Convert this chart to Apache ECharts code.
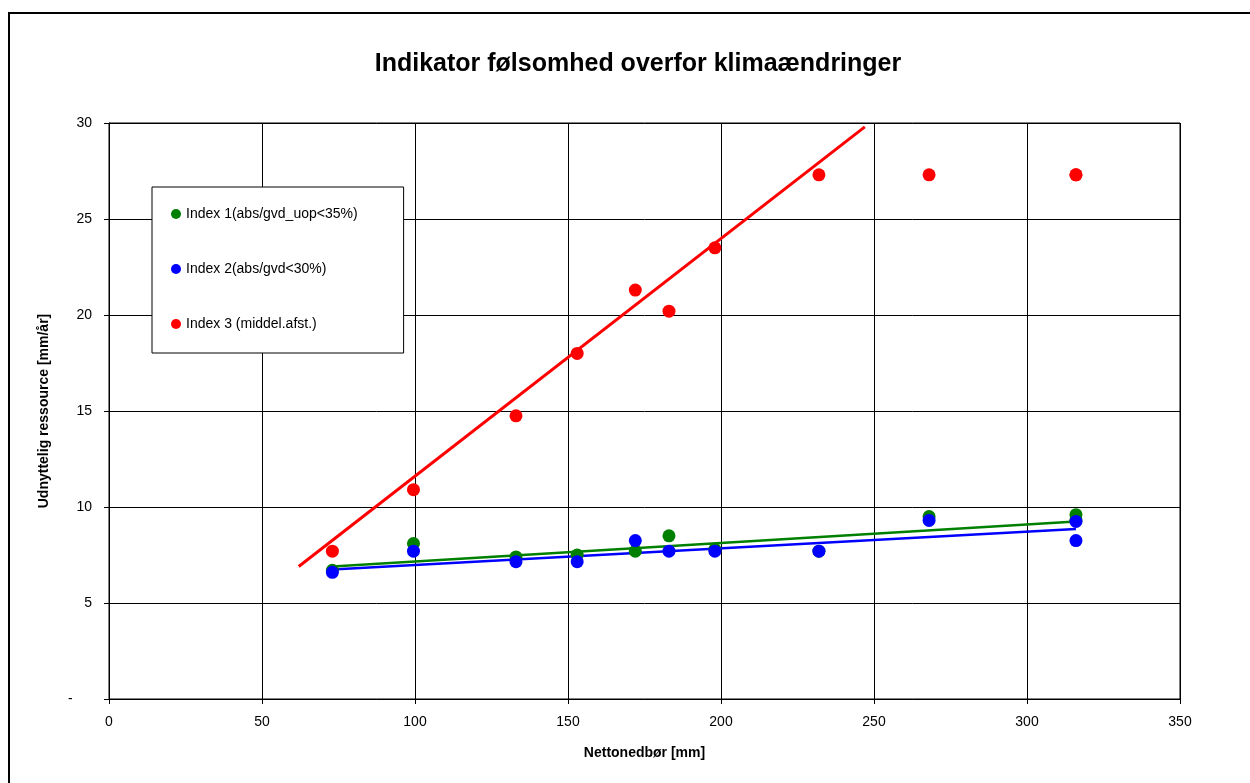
<!DOCTYPE html>
<html>
<head>
<meta charset="utf-8">
<script src="https://cdn.jsdelivr.net/npm/echarts@6/dist/echarts.min.js"></script>
<style>
  html, body { margin: 0; padding: 0; background: #fff; }
  #chart { width: 1250px; height: 783px; }
</style>
</head>
<body>
<div id="chart"></div>
<script>
  // Nettonedbør [mm] for hvert område
  const netPrecip = [73, 99.5, 133, 153, 172, 183, 198, 232, 268, 316, 316];
  // Udnyttelig ressource [mm/år]
  const index1 = [6.7, 8.1, 7.4, 7.5, 7.7, 8.5, 7.8, 7.7, 9.5, 9.6, 9.3];
  const index2 = [6.6, 7.7, 7.15, 7.15, 8.25, 7.7, 7.7, 7.7, 9.3, 9.25, 8.25];
  const index3 = [7.7, 10.9, 14.75, 18.0, 21.3, 20.2, 23.5, 27.3, 27.3, 27.3, 27.3];

  // tendenslinjer (endepunkter aflæst)
  const trend1X = [73, 316], trend1Y = [6.9, 9.25];
  const trend2X = [73, 316], trend2Y = [6.75, 8.85];
  const trend3X = [62, 247], trend3Y = [6.9, 29.8];

  const names = ["Index 1(abs/gvd_uop<35%)", "Index 2(abs/gvd<30%)", "Index 3 (middel.afst.)"];
  const colors = ["#008000", "#0000ff", "#ff0000"];

  const pairs = (xs, ys) => xs.map((x, i) => [x, ys[i]]);
  const font = "'Liberation Sans', Arial, sans-serif";

  const chart = echarts.init(document.getElementById("chart"));
  chart.setOption({
    animation: false,
    textStyle: { fontFamily: font, color: "#000" },
    title: {
      text: "Indikator følsomhed overfor klimaændringer",
      left: 633,
      textAlign: "center",
      top: 47,
      textStyle: { fontSize: 25, fontWeight: "bold", color: "#000", fontFamily: font }
    },
    graphic: [
      {
        type: "rect",
        shape: { x: 9, y: 13, width: 1400, height: 1000 },
        style: { fill: "none", stroke: "#000", lineWidth: 2 },
        silent: true
      }
    ],
    grid: {
      left: 109, top: 123, right: 70, bottom: 84,
      show: true, borderColor: "#000", borderWidth: 1
    },
    legend: {
      orient: "vertical",
      left: 152,
      top: 187,
      data: names,
      icon: "circle",
      itemWidth: 10,
      itemHeight: 10,
      itemGap: 41,
      padding: [20, 46, 22, 19],
      borderColor: "#000",
      borderWidth: 1,
      backgroundColor: "#fff",
      textStyle: { fontSize: 14, color: "#000", fontFamily: font }
    },
    xAxis: {
      type: "value",
      min: 0, max: 350, interval: 50,
      name: "Nettonedbør [mm]",
      nameLocation: "middle",
      nameGap: 47,
      nameTextStyle: { fontSize: 14, fontWeight: "bold", color: "#000" },
      axisLine: { lineStyle: { color: "#000" } },
      axisTick: { inside: false, length: 5, lineStyle: { color: "#000" } },
      axisLabel: { fontSize: 14, color: "#000", margin: 16 },
      splitLine: { lineStyle: { color: "#000", width: 1 } }
    },
    yAxis: {
      type: "value",
      min: 0, max: 30, interval: 5,
      name: "Udnyttelig ressource [mm/år]",
      nameLocation: "middle",
      nameGap: 58,
      nameTextStyle: { fontSize: 14, fontWeight: "bold", color: "#000" },
      axisLine: { show: true, lineStyle: { color: "#000" } },
      axisTick: { show: true, inside: false, length: 5, lineStyle: { color: "#000" } },
      axisLabel: {
        fontSize: 14, color: "#000", margin: 17,
        formatter: v => (v === 0 ? "-     " : v)
      },
      splitLine: { lineStyle: { color: "#000", width: 1 } }
    },
    series: [
      {
        type: "line", data: pairs(trend3X, trend3Y), symbol: "none",
        lineStyle: { color: colors[2], width: 3 }, silent: true, z: 2
      },
      {
        type: "line", data: pairs(trend2X, trend2Y), symbol: "none",
        lineStyle: { color: colors[1], width: 2.5 }, silent: true, z: 2
      },
      {
        type: "line", data: pairs(trend1X, trend1Y), symbol: "none",
        lineStyle: { color: colors[0], width: 2.5 }, silent: true, z: 2
      },
      {
        name: names[0], type: "scatter", data: pairs(netPrecip, index1),
        symbolSize: 13, itemStyle: { color: colors[0], opacity: 1 }, z: 3
      },
      {
        name: names[1], type: "scatter", data: pairs(netPrecip, index2),
        symbolSize: 13, itemStyle: { color: colors[1], opacity: 1 }, z: 4
      },
      {
        name: names[2], type: "scatter", data: pairs(netPrecip, index3),
        symbolSize: 13, itemStyle: { color: colors[2], opacity: 1 }, z: 5
      }
    ]
  });
</script>
</body>
</html>
